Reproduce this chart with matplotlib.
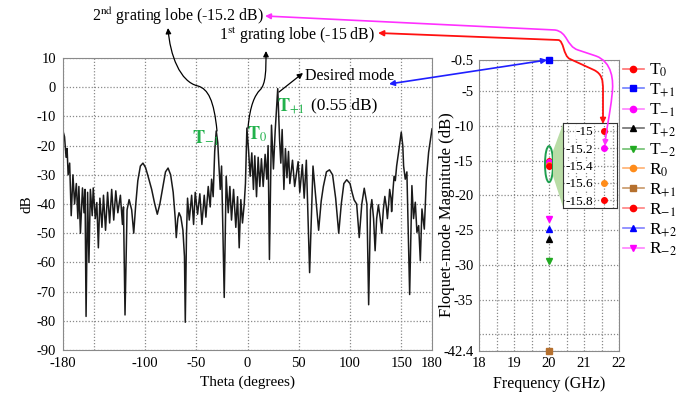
import matplotlib
matplotlib.use("Agg")
import matplotlib.pyplot as plt
import matplotlib.transforms as mtransforms
from matplotlib.patches import FancyArrowPatch, Ellipse, Polygon
from matplotlib.path import Path
from matplotlib.lines import Line2D

plt.rcParams['font.family'] = ['Liberation Serif', 'DejaVu Serif']
plt.rcParams['mathtext.fontset'] = 'stix'
plt.rcParams['axes.unicode_minus'] = False

# radiation pattern
theta = [-180, -178.5, -177, -176, -175, -173.5, -172, -170.3, -168.7, -167, -165.5, -164.5, -163,
         -161, -159.5, -158.5, -157.5, -156, -154.7, -153.3, -151.5, -150.5, -148.5, -147, -145.5,
         -144, -142, -140.5, -138.5, -136.5, -134.5, -132.5, -130.5, -128.5, -126.5, -124, -122,
         -121, -119.5, -117.5, -115.5, -113, -111, -109, -107, -104.5, -102, -99.5, -97, -93.5,
         -90.5, -88, -85.5, -82.5, -80, -77.5, -75, -72.5, -70.5, -69.5, -68, -66.8, -65, -63,
         -61.5, -60.7, -59.5, -58.5, -56.8, -54.5, -52.6, -51, -48.7, -46.5, -44.5, -42.2, -40.6,
         -38.3, -36.4, -35, -33.5, -32, -30.5, -29, -28, -26.6, -25.3, -22.7, -20.8, -18.8, -17.2,
         -15.6, -13.6, -11.4, -9.7, -8.1, -6.5, -4.9, -3.2, -2, -0.6, 1, 2.6, 4.2, 5.8, 7.1, 8.8,
         10.4, 12, 13.6, 15.3, 17.2, 18.8, 20.1, 21.4, 23.4, 25.3, 27, 29.5, 31.3, 32.5, 33.8,
         35.5, 37, 38.5, 40, 41.3, 43.9, 46, 49.4, 51, 53.5, 55.3, 57.4, 60.6, 63.9, 66.5, 69.4,
         71.9, 74, 77, 80, 83, 86, 89, 91.5, 94, 96.8, 100, 102, 104, 106.5, 109, 111.5, 113.9,
         116.5, 118.2, 120, 121.3, 123, 124.5, 126, 127.7, 129.5, 131, 132.5, 134, 135.5, 136.5,
         137.7, 138.7, 140, 140.6, 142, 143, 144.2, 145.5, 147.5, 150, 151.5, 152.3, 153.9, 155.5,
         158.2, 160.4, 162, 163.7, 165.3, 167, 168.6, 170.2, 172.5, 174.5, 176.7, 178.5, 180]
pattern_db = [-15, -17, -24, -21, -30, -26, -44, -30, -40, -33, -45, -34, -50,
              -34.5, -43, -35, -78.5, -36, -60, -35, -44, -34.5, -45, -39.5, -55,
              -38, -48, -37, -49, -36, -46.5, -35, -45.5, -35.5, -43, -37, -47,
              -41, -78, -42, -38.5, -42, -50, -40, -32, -27, -26, -27.5, -30.5, -35,
              -40, -43.5, -40, -34, -29, -27.7, -30, -36, -45, -51.5, -45, -43, -44.5, -49,
              -58, -80.5, -50, -38, -45.5, -37, -47, -36, -43.5, -36.5, -47, -37, -44.5,
              -34, -41, -31.5, -37.5, -22, -15, -19, -26, -35, -27, -72, -30.5, -43, -34,
              -45.5, -35, -48, -37.5, -55, -38.5, -46.5, -40, -33, -14, -21.5, -30.5, -22.5, -35, -23.5, -37.5,
              -24, -34, -24.5, -34, -23, -31.5, -20, -59, -13, -28, -15, -0.5, -18, -26, -14.5,
              -35, -21, -31, -22, -33, -25, -34, -25.5, -36, -26.5, -38, -25, -63.5, -27, -37.5, -49,
              -39, -34, -29, -28.3, -30, -38, -50, -40, -33, -31.7, -33, -36, -38.6, -40, -51.5, -40, -34.6,
              -40, -74.5, -42, -38.5, -45, -56, -45, -40.3, -45, -50, -42, -37.4, -41, -45,
              -40, -35, -38, -42.6, -35, -30.5, -32, -27, -22, -15.4, -20, -27, -31.5, -29,
              -71, -33.7, -45, -39.4, -49.7, -47.4, -59.4, -41.7, -48.6, -31.4, -22.3, -18, -14.3]

# Floquet modes at 20 GHz
mode_freq = 20
mode_labels = [r'T$_{0}$', r'T$_{+1}$', r'T$_{-1}$', r'T$_{+2}$', r'T$_{-2}$',
               r'R$_{0}$', r'R$_{+1}$', r'R$_{-1}$', r'R$_{+2}$', r'R$_{-2}$']
mode_db = [-15.0, -0.5, -15.2, -26.3, -29.4, -15.6, -42.4, -15.8, -24.9, -23.4]
mode_markers = ['o', 's', 'o', '^', 'v', 'o', 's', 'o', '^', 'v']
mode_colors = ['#ff0000', '#0000ff', '#ff00ff', '#000000', '#22aa22',
               '#ff8c1a', '#b5702e', '#ff0000', '#0000ff', '#ff00ff']
line_colors = ['#ff7070', '#6f7fff', '#ff80ff', '#707070', '#70c070',
               '#ffb070', '#c89868', '#ff8080', '#8080ff', '#ff80ff']

W, H = 694, 397
fig = plt.figure(figsize=(W / 100, H / 100), dpi=100)
px = mtransforms.Affine2D().scale(1 / W, -1 / H).translate(0, 1) + fig.transFigure

grid_kw = dict(color='#8a8a8a', linestyle=(0, (1, 1.5)), linewidth=0.9)

# ---- left: pattern ----
ax = fig.add_axes([63 / W, 1 - 350 / H, 369 / W, 292 / H])
ax.plot(theta, pattern_db, color='#1a1a1a', lw=1.1)
ax.set_xlim(-180, 180)
ax.set_ylim(-90, 10)
ax.set_xticks([-180, -100, -50, 0, 50, 100, 150, 180])
ax.set_xticks([-150], minor=True)
ax.set_yticks(range(-90, 11, 10))
ax.grid(True, which='both', **grid_kw)
ax.tick_params(which='both', length=0, labelsize=10.5, pad=5)
for s in ax.spines.values():
    s.set_color('#8a8a8a')
ax.set_xlabel('Theta (degrees)', fontsize=11, labelpad=4)
ax.set_ylabel('dB', fontsize=11, labelpad=2)

# ---- right: Floquet modes ----
ax2 = fig.add_axes([479 / W, 1 - 351 / H, 140 / W, 291 / H])
for lab, v, m, c in zip(mode_labels, mode_db, mode_markers, mode_colors):
    ax2.plot([mode_freq], [v], ls='none', marker=m, color=c, ms=4, clip_on=False, zorder=3)
ax2.set_xlim(18, 22)
ax2.set_ylim(-42.4, -0.5)
ax2.set_xticks([18, 19, 20, 21, 22])
ax2.set_xticks([18.5, 19.5, 20.5, 21.5], minor=True)
yt = [-0.5, -5, -10, -15, -20, -25, -30, -35, -40, -42.4]
ax2.set_yticks(yt)
ax2.set_yticklabels([('' if v == -40 else f'{v:g}') for v in yt])
ax2.grid(True, which='both', **grid_kw)
ax2.tick_params(which='both', length=0, labelsize=10.5, pad=4)
for s in ax2.spines.values():
    s.set_color('#8a8a8a')
ax2.set_xlabel('Frequency (GHz)', fontsize=11.5, labelpad=5)
ax2.set_ylabel('Floquet-mode Magnitude (dB)', fontsize=12)
ax2.yaxis.set_label_coords(-0.17, 0.47)
ax2.add_patch(Ellipse((20, -15.5), 0.23, 5.2, fill=False, ec='#1f9f4f', lw=1.4, zorder=4))

# zoomed inset
axi = fig.add_axes([563 / W, 1 - 208 / H, 54 / W, 85 / H], zorder=3)
for v, m, c in zip(mode_db, mode_markers, mode_colors):
    if -15.9 < v < -14.9:
        axi.plot([mode_freq], [v], ls='none', marker=m, color=c, ms=4)
axi.set_xlim(19.55, 20.15)
axi.set_ylim(-15.89, -14.91)
axi.set_xticks([19.6, 19.7, 19.8, 19.9, 20.0, 20.1])
axi.set_xticklabels([])
axi.set_yticks([-15, -15.2, -15.4, -15.6, -15.8])
axi.set_yticklabels(['-15', '-15.2', '-15.4', '-15.6', '-15.8'])
axi.tick_params(length=0, labelsize=9.5, pad=-22)
for lab in axi.get_yticklabels():
    lab.set_bbox(dict(fc='white', ec='none', pad=0.3))
axi.grid(True, **grid_kw)
for s in axi.spines.values():
    s.set_color('#333333')
fig.add_artist(Polygon([(553, 151), (563, 124), (563, 207), (553, 176)], closed=True,
                       transform=px, fc='#b9dca6', ec='none', zorder=2))

# legend
handles = [Line2D([], [], color=lc, lw=1.2, marker=m, mfc=c, mec=c, ms=4.5)
           for m, c, lc in zip(mode_markers, mode_colors, line_colors)]
fig.legend(handles, mode_labels, loc='upper left', bbox_to_anchor=(623 / W, 1 - 62 / H),
           frameon=False, fontsize=12.5, handlelength=1.2, handletextpad=0.3,
           labelspacing=0.14, borderpad=0, borderaxespad=0)

# annotations
fig.text(92, 16, r'2$^{\mathrm{nd}}$ grating lobe (-15.2 dB)', transform=px, fontsize=11.4, va='center')
fig.text(219, 36, r'1$^{\mathrm{st}}$ grating lobe (-15 dB)', transform=px, fontsize=11.4, va='center')
fig.text(305, 76, 'Desired mode', transform=px, fontsize=11.5, va='center')
fig.text(311, 105, '(0.55 dB)', transform=px, fontsize=12.5, va='center')
green = '#22b14c'
fig.text(192, 138, r'$\mathbf{T}_{-1}$', transform=px, fontsize=13, color=green, va='center')
fig.text(247, 134, r'$\mathbf{T}_{0}$', transform=px, fontsize=13, color=green, va='center')
fig.text(277, 106, r'$\mathbf{T}_{+1}$', transform=px, fontsize=13, color=green, va='center')

M, L, C = Path.MOVETO, Path.LINETO, Path.CURVE4


def arrow(verts, codes, color, style, lw=0.9, ms=8):
    fig.add_artist(FancyArrowPatch(path=Path(verts, codes), arrowstyle=style, mutation_scale=ms,
                                   color=color, lw=lw, transform=px, zorder=5))


arrow([(217, 131), (214, 100), (208, 89), (198, 86), (180, 82), (170, 55), (168, 28)],
      [M, C, C, C, C, C, C], 'black', '-|>')
arrow([(248, 128), (250, 105), (255, 95), (260, 90), (266, 84), (266, 70), (266, 51)],
      [M, C, C, C, C, C, C], 'black', '-|>')
arrow([(279, 92), (303, 73)], [M, L], 'black', '-|>')
arrow([(389, 84), (547, 60)], [M, L], '#1f1fff', '<|-|>', lw=1.2)
arrow([(378, 33), (558, 40), (564, 40), (563, 56), (570, 59), (594, 70),
       (602, 74), (603, 80), (603, 90), (603, 124)],
      [M, L, C, C, C, L, C, C, C, L], '#ff1010', '<|-|>', lw=1.3)
arrow([(265, 16), (555, 30), (568, 32), (566, 46), (578, 50), (596, 56),
       (612, 62), (614, 80), (612, 95), (610, 115), (606, 130), (605, 146)],
      [M, L, C, C, C, L, C, C, C, C, C, C], '#ff30ff', '<|-|>', lw=1.2)

fig.savefig('out.png', dpi=100)
